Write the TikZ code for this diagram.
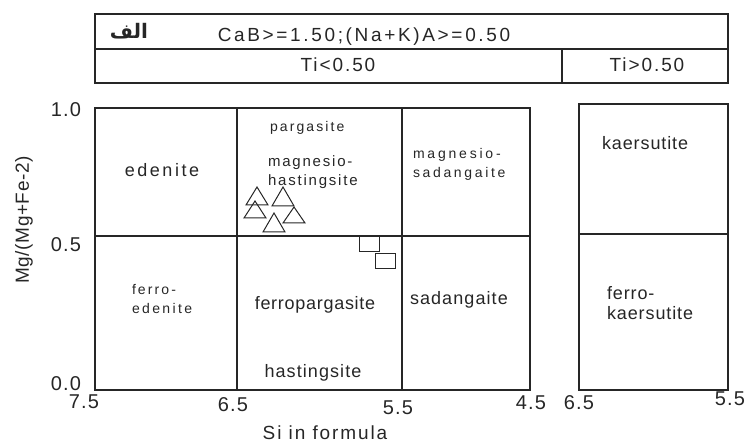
\documentclass[tikz,border=0pt]{standalone}
\usepackage{fontspec}
\setmainfont{Liberation Sans}
\newfontfamily\arabicfont[Script=Arabic]{DejaVu Sans}
\TeXXeTstate=1
\newcommand{\tx}[3]{\fontsize{#1}{#1}\selectfont\addfontfeatures{LetterSpace=#2}#3}
\begin{document}
\begin{tikzpicture}[x=1pt,y=-1pt,
  frame/.style={draw=black!85,line width=1.1pt},
  lbl/.style={inner sep=0pt,outer sep=0pt,text=black!85},
  lbll/.style={lbl,anchor=west},
  datapt/.style={draw=black!85,line width=1pt}]
\useasboundingbox (0,0) rectangle (749,443);
% header
\draw[frame] (95,14) rectangle (728,83);
\draw[frame] (95,49) -- (728,49);
\draw[frame] (562,49) -- (562,83);
\node[lbl] (alef) at (129,31) {\fontsize{20}{20}\selectfont\arabicfont\bfseries\beginR الف\endR};
\node[lbl] (cab) at (364,37) {\tx{19}{14}{CaB>=1.50;(Na+K)A>=0.50}};
\node[lbl] (tilo) at (338,65) {\tx{19}{10}{Ti<0.50}};
\node[lbl] (tihi) at (647,65) {\tx{19}{10}{Ti>0.50}};
% left plot
\draw[frame] (95,108) rectangle (530,390);
\draw[frame] (237,108) -- (237,390);
\draw[frame] (402,108) -- (402,390);
\draw[frame] (95,236) -- (530,236);
% right plot
\draw[frame] (579,104) rectangle (728,390);
\draw[frame] (579,234) -- (728,234);
% tick labels
\node[lbl] (y10) at (66,110) {\tx{20}{6}{1.0}};
\node[lbl] (y05) at (66,245) {\tx{20}{6}{0.5}};
\node[lbl] (y00) at (66,384) {\tx{20}{6}{0.0}};
\node[lbl] (x75) at (84,402) {\tx{20}{6}{7.5}};
\node[lbl] (x65) at (233,405) {\tx{20}{6}{6.5}};
\node[lbl] (x55) at (398,408) {\tx{20}{6}{5.5}};
\node[lbl] (x45) at (531,403) {\tx{20}{6}{4.5}};
\node[lbl] (x65b) at (579,403) {\tx{20}{6}{6.5}};
\node[lbl] (x55b) at (730,399) {\tx{20}{6}{5.5}};
\node[lbl] (xlab) at (325,433) {\tx{19}{10}{Si in formula}};
\node[lbl,rotate=90] (ylab) at (24,220) {\tx{19}{3}{Mg/(Mg+Fe-2)}};
% region labels
\node[lbl] (eden) at (162,170) {\tx{18}{14}{edenite}};
\node[lbll] (parg) at (270,128) {\tx{14}{15}{pargasite}};
\node[lbll] (mh1) at (268,163) {\tx{15}{12}{magnesio-}};
\node[lbll] (mh2) at (268,182) {\tx{15}{12}{hastingsite}};
\node[lbll] (ms1) at (413,155) {\tx{14}{20}{magnesio-}};
\node[lbll] (ms2) at (413,174) {\tx{14}{19}{sadangaite}};
\node[lbll] (fe1) at (132,290) {\tx{14}{15}{ferro-}};
\node[lbll] (fe2) at (132,308) {\tx{14}{17}{edenite}};
\node[lbl] (fparg) at (315,305) {\tx{18}{4}{ferropargasite}};
\node[lbl] (hast) at (313,373) {\tx{18}{6}{hastingsite}};
\node[lbll] (sad) at (410,300) {\tx{18}{6}{sadangaite}};
\node[lbll] (kaer) at (602,143) {\tx{18}{5}{kaersutite}};
\node[lbll] (fk1) at (607,293) {\tx{18}{5}{ferro-}};
\node[lbll] (fk2) at (607,313) {\tx{18}{5}{kaersutite}};
% data: triangles
\foreach \cx/\ay/\by in {257/187/205, 283/187/206, 255/201/218, 294/207/223, 274/213/232}
  \draw[datapt] (\cx-11,\by) -- (\cx,\ay) -- (\cx+11,\by) -- cycle;
% data: squares
\draw[datapt] (359,237) rectangle (379,252);
\draw[datapt] (375,254) rectangle (395,269);
\end{tikzpicture}
\end{document}
